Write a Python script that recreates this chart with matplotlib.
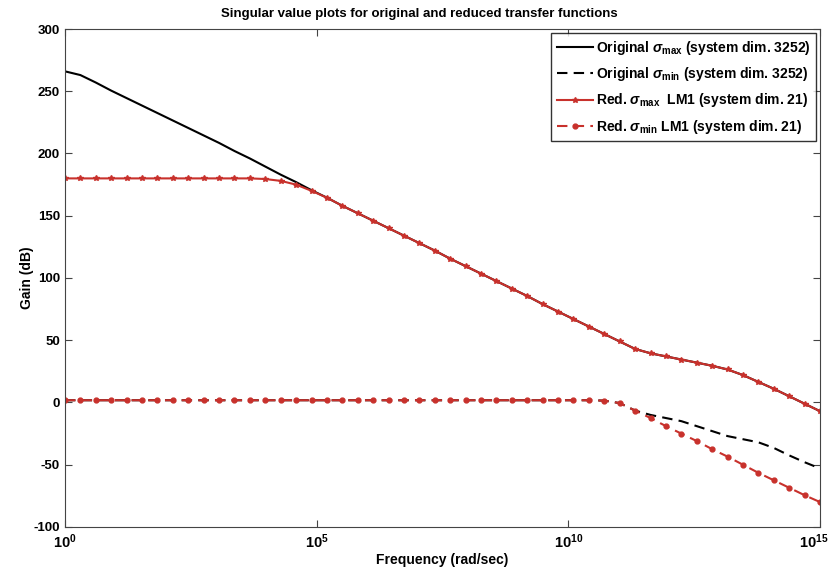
import numpy as np
import matplotlib
matplotlib.use("Agg")
import matplotlib.pyplot as plt
import matplotlib.transforms as mtransforms

plt.rcParams["font.family"] = ["Liberation Sans", "DejaVu Sans"]
plt.rcParams["font.weight"] = "bold"
plt.rcParams["axes.unicode_minus"] = False
plt.rcParams["mathtext.fontset"] = "custom"
plt.rcParams["mathtext.rm"] = "Liberation Sans:bold"
plt.rcParams["mathtext.bf"] = "Liberation Sans:bold"
plt.rcParams["mathtext.it"] = "Liberation Sans:italic"

# frequency grid: 50 points, 10^0 .. 10^15 rad/sec
freq = np.logspace(0, 15, 50)

orig_max = [266, 263, 257, 250.5, 244.5, 238.5, 232.5, 226.5, 220.5, 214.5,
            208.5, 202, 196, 189.5, 183, 177, 170.5, 164.5, 158, 152,
            146, 140, 134, 128, 122, 115.5, 109.5, 103.5, 97.5, 91.5,
            85.5, 79, 73, 67, 61, 55, 49, 43, 39.5, 37,
            34.5, 32, 29.5, 26.5, 22, 16.5, 11, 5, -1, -7]

red_max = [180, 180, 180, 180, 180, 180, 180, 180, 180, 180,
           180, 180, 180, 179.5, 178, 175, 170, 164.5, 158, 152,
           146, 140, 134, 128, 122, 115.5, 109.5, 103.5, 97.5, 91.5,
           85.5, 79, 73, 67, 61, 55, 49, 43, 39.5, 37,
           34.5, 32, 29.5, 26.5, 22, 16.5, 11, 5, -1, -7]

orig_min = [1.8] * 35 + [1.5, -0.5, -6.5, -10, -12.5,
                         -15, -19, -23, -27, -29.5, -32, -36.5, -42.5, -48, -53]

red_min = [1.8] * 35 + [1.5, -0.5, -6.5, -12.5, -19,
                        -25, -31, -37.5, -43.5, -50, -56.5, -62.5, -68.5, -74.5, -80]

labels = [r"Original $\sigma_{\mathrm{max}}$ (system dim. 3252)",
          r"Original $\sigma_{\mathrm{min}}$ (system dim. 3252)",
          r"Red. $\sigma_{\mathrm{max}}$  LM1 (system dim. 21)",
          r"Red. $\sigma_{\mathrm{min}}$ LM1 (system dim. 21)"]

red = "#c8312c"

fig = plt.figure(figsize=(8.31, 5.71), dpi=100)
ax = fig.add_axes([0.0782, 0.0771, 0.9086, 0.8721])

ax.semilogx(freq, orig_max, color="black", lw=1.5, label=labels[0])
ax.semilogx(freq, orig_min, color="black", lw=1.5, ls=(0, (5, 3)), label=labels[1])
ax.semilogx(freq, red_max, color=red, lw=1.5, marker="*", ms=4, label=labels[2])
ax.semilogx(freq, red_min, color=red, lw=1.5, ls=(0, (5, 3)), marker="o", ms=3.5,
            mfc=red, label=labels[3])

ax.set_xlim(1, 1e15)
ax.set_ylim(-100, 300)
ax.set_xticks([1e0, 1e5, 1e10, 1e15])
ax.set_xticklabels([r"$\mathbf{10^{0}}$", r"$\mathbf{10^{5}}$",
                    r"$\mathbf{10^{10}}$", r"$\mathbf{10^{15}}$"])
ax.minorticks_off()
ax.set_yticks(range(-100, 301, 50))
ax.tick_params(direction="in", top=True, right=True, labelsize=9.5, length=5,
               color="#444444")
ax.tick_params(axis="x", labelsize=10.5, pad=4)
for s in ax.spines.values():
    s.set_color("#444444")

# keep the last x label inside the figure
last = ax.get_xticklabels()[-1]
last.set_transform(last.get_transform() +
                   mtransforms.ScaledTranslation(-6 / 100, 0, fig.dpi_scale_trans))

ax.set_title("Singular value plots for original and reduced transfer functions",
             fontsize=9.5, fontweight="bold", x=0.469, pad=9)
ax.set_xlabel("Frequency (rad/sec)", fontsize=10, fontweight="bold", labelpad=1)
ax.set_ylabel("Gain (dB)", fontsize=10, fontweight="bold", labelpad=0)

leg = ax.legend(loc="upper right", fontsize=10, frameon=True, fancybox=False,
                edgecolor="black", handlelength=2.6, handletextpad=0.2,
                labelspacing=0.6, borderpad=0.4, borderaxespad=0.3)
leg.get_frame().set_linewidth(1.0)

fig.savefig("out.png", dpi=100)
